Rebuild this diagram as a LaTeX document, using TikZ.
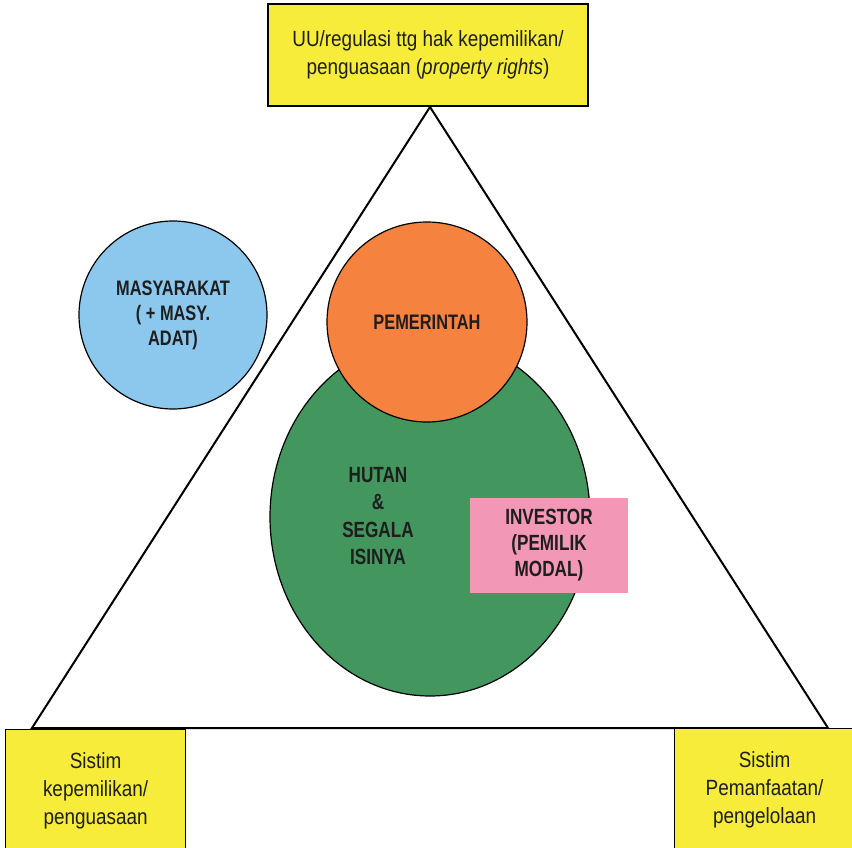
\documentclass[tikz,border=0pt]{standalone}
\usepackage{fontspec}
\setmainfont{Liberation Sans}[FakeStretch=0.86]
\newfontfamily\sempit{Liberation Sans}[FakeStretch=0.78]
\usetikzlibrary{shapes.geometric}
\definecolor{kuning}{RGB}{247,236,58}
\definecolor{biru}{RGB}{140,200,238}
\definecolor{oranye}{RGB}{245,130,62}
\definecolor{hijau}{RGB}{66,150,94}
\definecolor{merahmuda}{RGB}{242,152,182}
\definecolor{tinta}{RGB}{30,30,30}
\tikzstyle{kotak}=[draw,fill=kuning,line width=1.2pt,align=center,inner sep=0pt,text=tinta,font=\fontsize{22}{28}\selectfont]
\tikzstyle{bulat}=[circle,draw,line width=1.2pt,align=center,inner sep=0pt,text=tinta,font=\sempit\bfseries\fontsize{21}{25}\selectfont]
\tikzstyle{tebal}=[align=center,inner sep=0pt,text=tinta,font=\sempit\bfseries\fontsize{22}{27.5}\selectfont]

\begin{document}
\begin{tikzpicture}[x=1pt,y=-1pt]
      \useasboundingbox (0,0) rectangle (852,848);

      % segitiga
      \coordinate (puncak) at (430,107);
      \coordinate (kiri) at (32,728);
      \coordinate (kanan) at (828,728);
      \draw[line width=2pt, line join=miter] (puncak) -- (kiri) -- (kanan) -- cycle;

      % kotak kuning
      \node[kotak, minimum width=320, minimum height=102] (uu) at (428,55)
        {UU/regulasi ttg hak kepemilikan/\\penguasaan (\textit{property rights})};
      \node[kotak, minimum width=180, minimum height=122, anchor=north west] (milik) at (5,729)
        {Sistim\\kepemilikan/\\penguasaan};
      \node[kotak, minimum width=180, minimum height=122, anchor=north west] (manfaat) at (674,728)
        {Sistim\\Pemanfaatan/\\pengelolaan};

      % hutan dan para pihak
      \node[ellipse, draw, fill=hijau, line width=1.2pt, minimum width=320, minimum height=358] (hutan) at (430,517) {};
      \node[tebal] (isi) at (378,516) {HUTAN\\\&\\SEGALA\\ISINYA};
      \node[bulat, fill=oranye, minimum size=200] (pemerintah) at (427,322) {PEMERINTAH};
      \node[bulat, fill=biru, minimum size=188] (masyarakat) at (173,315) {MASYARAKAT\\( + MASY.\\ADAT)};
      \node[tebal, fill=merahmuda, minimum width=158, minimum height=95, font=\sempit\bfseries\fontsize{22}{26}\selectfont] (investor) at (549,545)
        {INVESTOR\\(PEMILIK\\MODAL)};
    \end{tikzpicture}
\end{document}
